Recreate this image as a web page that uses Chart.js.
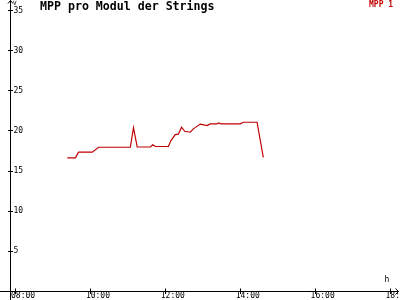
<!DOCTYPE html>
<html><head><meta charset="utf-8">
<script src="https://cdn.jsdelivr.net/npm/chart.js@4"></script>
<style>html,body{margin:0;padding:0;background:#fff;overflow:hidden}</style>
</head><body>
<canvas id="c" width="400" height="300"></canvas>
<script>
const TITLE = 'MPP pro Modul der Strings';
const SERIES_NAME = 'MPP 1';
const Y_UNIT = 'V';
const X_UNIT = 'h';
const times = ['09:23','09:36','09:41','10:03','10:13','11:04','11:09','11:15','11:36','11:40','11:44','12:05','12:09','12:16','12:21','12:26','12:31','12:40','12:45','12:56','13:07','13:12','13:23','13:25','13:29','14:00','14:05','14:27','14:37'];
const values = [16.65,16.65,17.35,17.35,17.97,17.97,20.4,18.0,18.0,18.27,18.06,18.06,18.8,19.55,19.6,20.46,19.96,19.84,20.26,20.85,20.67,20.88,20.88,21.0,20.88,20.88,21.08,21.08,16.72];
const xTicks = [8,10,12,14,16,18];
const yTicks = [5,10,15,20,25,30,35];
const X_MIN = 7.8667, X_MAX = 18.213, Y_MIN = 0, Y_MAX = 36.31;
const LINE_COLOR = '#c00000';
const MONO = '"DejaVu Sans Mono", monospace';

const toHours = s => { const [h,m] = s.split(':').map(Number); return h + m/60; };
const points = times.map((t,i) => ({x: toHours(t), y: values[i]}));
const fmtHour = v => (v < 10 ? '0' : '') + v + ':00';

const decor = {
  id: 'decor',
  afterDraw(chart) {
    const ctx = chart.ctx, a = chart.chartArea;
    const xs = chart.scales.x, ys = chart.scales.y;
    const ax = a.left, ay = a.bottom;
    ctx.save();
    ctx.strokeStyle = '#000'; ctx.lineWidth = 1;
    ctx.beginPath();
    ctx.moveTo(ax, 0); ctx.lineTo(ax, 300);
    ctx.moveTo(0, ay); ctx.lineTo(399, ay);
    ctx.moveTo(ax - 2.5, 3.5); ctx.lineTo(ax, 0.5); ctx.lineTo(ax + 2.5, 3.5);
    ctx.moveTo(395.5, ay - 3); ctx.lineTo(398.5, ay); ctx.lineTo(395.5, ay + 3);
    xTicks.forEach(v => { const p = Math.round(xs.getPixelForValue(v)) + 0.5; ctx.moveTo(p, ay - 3); ctx.lineTo(p, ay + 2.5); });
    yTicks.forEach(v => { const p = Math.round(ys.getPixelForValue(v) - 0.5) + 0.5; ctx.moveTo(ax - 2.5, p); ctx.lineTo(ax + 2.5, p); });
    ctx.stroke();
    ctx.fillStyle = '#000';
    ctx.textBaseline = 'top'; ctx.textAlign = 'left';
    ctx.font = 'bold 11.6px ' + MONO;
    ctx.fillText(TITLE, 40, 1.5);
    ctx.font = 'bold 8px ' + MONO;
    ctx.fillStyle = LINE_COLOR;
    ctx.fillText(SERIES_NAME, 369, 0.5);
    ctx.fillStyle = '#000';
    ctx.font = '6px ' + MONO;
    ctx.fillText(Y_UNIT, 13, 0);
    ctx.font = '8px ' + MONO;
    ctx.fillText(X_UNIT, 384.5, 276);
    ctx.restore();
  }
};

new Chart(document.getElementById('c'), {
  type: 'line',
  data: { datasets: [{ label: SERIES_NAME, data: points, borderColor: LINE_COLOR, borderWidth: 1.2, pointRadius: 0, tension: 0, fill: false }] },
  options: {
    responsive: false, devicePixelRatio: 1, animation: false,
    layout: { padding: { left: 10.5, right: 2, top: 0, bottom: 0 } },
    plugins: { legend: { display: false }, title: { display: false }, tooltip: { enabled: false } },
    scales: {
      x: {
        type: 'linear', min: X_MIN, max: X_MAX,
        grid: { display: false, drawTicks: false }, border: { display: false },
        afterBuildTicks: s => { s.ticks = xTicks.map(v => ({value: v})); },
        afterFit: s => { s.paddingLeft = 0; s.paddingRight = 0; s.height = 8.5; },
        ticks: { callback: v => fmtHour(v), align: 'start', labelOffset: -4.5, padding: 0, maxRotation: 0, autoSkip: false,
                 color: '#000', font: { family: MONO, size: 8, lineHeight: 1 } }
      },
      y: {
        min: Y_MIN, max: Y_MAX,
        grid: { display: false, drawTicks: false }, border: { display: false },
        afterBuildTicks: s => { s.ticks = yTicks.map(v => ({value: v})); },
        afterFit: s => { s.width = 0; s.paddingTop = 0; s.paddingBottom = 0; },
        ticks: { mirror: true, padding: 3, color: '#000', font: { family: MONO, size: 8, lineHeight: 1 } }
      }
    }
  },
  plugins: [decor]
});
</script>
</body></html>
